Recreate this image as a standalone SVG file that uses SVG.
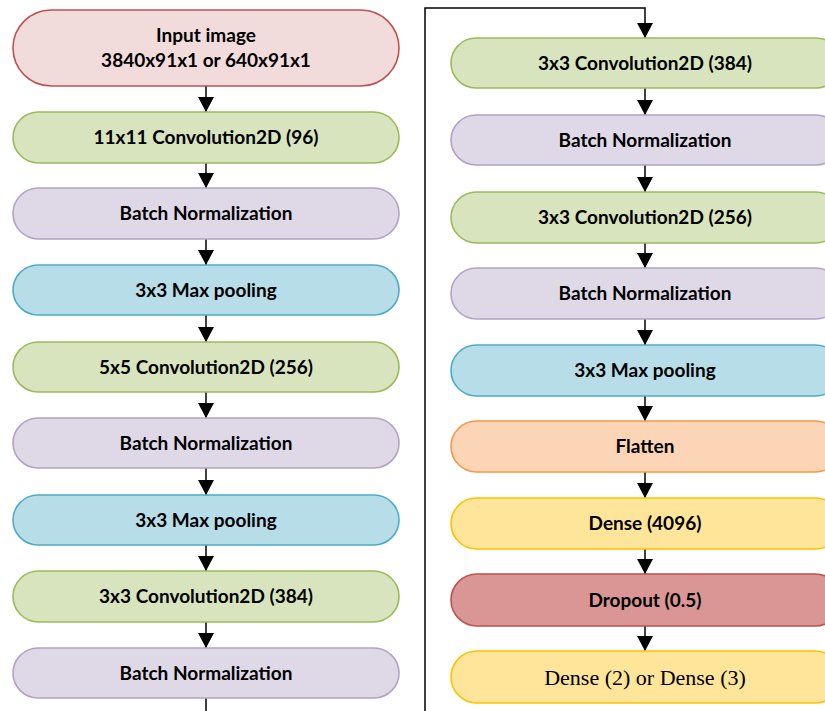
<svg xmlns="http://www.w3.org/2000/svg" width="825" height="711" viewBox="0 0 825 711">
<defs>
<style>
.b{stroke-width:1.6}
.red{fill:#f2dcdb;stroke:#c0504d}
.grn{fill:#d7e4bd;stroke:#9bbb59}
.pur{fill:#dfd9e7;stroke:#b3a2c7}
.blu{fill:#b7dee8;stroke:#4bacc6}
.org{fill:#fbd5b5;stroke:#f79646}
.yel{fill:#fee599;stroke:#ffc000}
.drp{fill:#d99694;stroke:#c0504d}
text{font-family:Lato,"Open Sans","Liberation Sans",sans-serif;font-weight:bold;font-size:19px;fill:#000;text-anchor:middle}
text.serif{font-family:"Liberation Serif","DejaVu Serif",serif;font-weight:normal;font-size:22px}
.c{fill:none;stroke:#000;stroke-width:1.5}
</style>
<marker id="ah" markerWidth="15" markerHeight="16" refX="15" refY="8" orient="auto" markerUnits="userSpaceOnUse">
<path d="M0,0 L15,8 L0,16 Z" fill="#000"/>
</marker>
</defs>
<g id="connectors">
<path class="c" d="M206,86 V112" marker-end="url(#ah)"/>
<path class="c" d="M206,163 V188" marker-end="url(#ah)"/>
<path class="c" d="M206,239 V265" marker-end="url(#ah)"/>
<path class="c" d="M206,315 V342" marker-end="url(#ah)"/>
<path class="c" d="M206,392 V418" marker-end="url(#ah)"/>
<path class="c" d="M206,468 V495" marker-end="url(#ah)"/>
<path class="c" d="M206,545 V571" marker-end="url(#ah)"/>
<path class="c" d="M206,622 V648" marker-end="url(#ah)"/>
<path class="c" d="M206,698 V725 H425 V8 H645 V38" marker-end="url(#ah)"/>
<path class="c" d="M645,88 V115" marker-end="url(#ah)"/>
<path class="c" d="M645,165 V192" marker-end="url(#ah)"/>
<path class="c" d="M645,243 V268" marker-end="url(#ah)"/>
<path class="c" d="M645,319 V345" marker-end="url(#ah)"/>
<path class="c" d="M645,396 V421" marker-end="url(#ah)"/>
<path class="c" d="M645,472 V498" marker-end="url(#ah)"/>
<path class="c" d="M645,549 V574" marker-end="url(#ah)"/>
<path class="c" d="M645,626 V651" marker-end="url(#ah)"/>
</g>
<g id="input"><rect class="b red" x="13" y="10" width="386" height="76" rx="38"/><text x="206" y="42">Input image</text><text x="206" y="67">3840x91x1 or 640x91x1</text></g>
<g id="conv11"><rect class="b grn" x="13" y="112" width="386" height="51" rx="25.5"/><text x="206" y="144">11x11 Convolution2D (96)</text></g>
<g id="bn1"><rect class="b pur" x="13" y="188" width="386" height="51" rx="25.5"/><text x="206" y="220">Batch Normalization</text></g>
<g id="pool1"><rect class="b blu" x="13" y="265" width="386" height="50" rx="25"/><text x="206" y="296.5">3x3 Max pooling</text></g>
<g id="conv5"><rect class="b grn" x="13" y="342" width="386" height="50" rx="25"/><text x="206" y="373.5">5x5 Convolution2D (256)</text></g>
<g id="bn2"><rect class="b pur" x="13" y="418" width="386" height="50" rx="25"/><text x="206" y="449.5">Batch Normalization</text></g>
<g id="pool2"><rect class="b blu" x="13" y="495" width="386" height="50" rx="25"/><text x="206" y="526.5">3x3 Max pooling</text></g>
<g id="conv3a"><rect class="b grn" x="13" y="571" width="386" height="51" rx="25.5"/><text x="206" y="603">3x3 Convolution2D (384)</text></g>
<g id="bn3"><rect class="b pur" x="13" y="648" width="386" height="50" rx="25"/><text x="206" y="679.5">Batch Normalization</text></g>
<g id="conv3b"><rect class="b grn" x="451" y="38" width="390" height="50" rx="25"/><text x="645" y="69.5">3x3 Convolution2D (384)</text></g>
<g id="bn4"><rect class="b pur" x="451" y="115" width="390" height="50" rx="25"/><text x="645" y="146.5">Batch Normalization</text></g>
<g id="conv3c"><rect class="b grn" x="451" y="192" width="390" height="51" rx="25.5"/><text x="645" y="224">3x3 Convolution2D (256)</text></g>
<g id="bn5"><rect class="b pur" x="451" y="268" width="390" height="51" rx="25.5"/><text x="645" y="300">Batch Normalization</text></g>
<g id="pool3"><rect class="b blu" x="451" y="345" width="390" height="51" rx="25.5"/><text x="645" y="377">3x3 Max pooling</text></g>
<g id="flatten"><rect class="b org" x="451" y="421" width="390" height="51" rx="25.5"/><text x="645" y="453">Flatten</text></g>
<g id="dense1"><rect class="b yel" x="451" y="498" width="390" height="51" rx="25.5"/><text x="645" y="530">Dense (4096)</text></g>
<g id="dropout"><rect class="b drp" x="451" y="574" width="390" height="52" rx="26"/><text x="645" y="606.5">Dropout (0.5)</text></g>
<g id="dense2"><rect class="b yel" x="451" y="651" width="390" height="52" rx="26"/><text class="serif" x="645" y="684.5">Dense (2) or Dense (3)</text></g>
</svg>
